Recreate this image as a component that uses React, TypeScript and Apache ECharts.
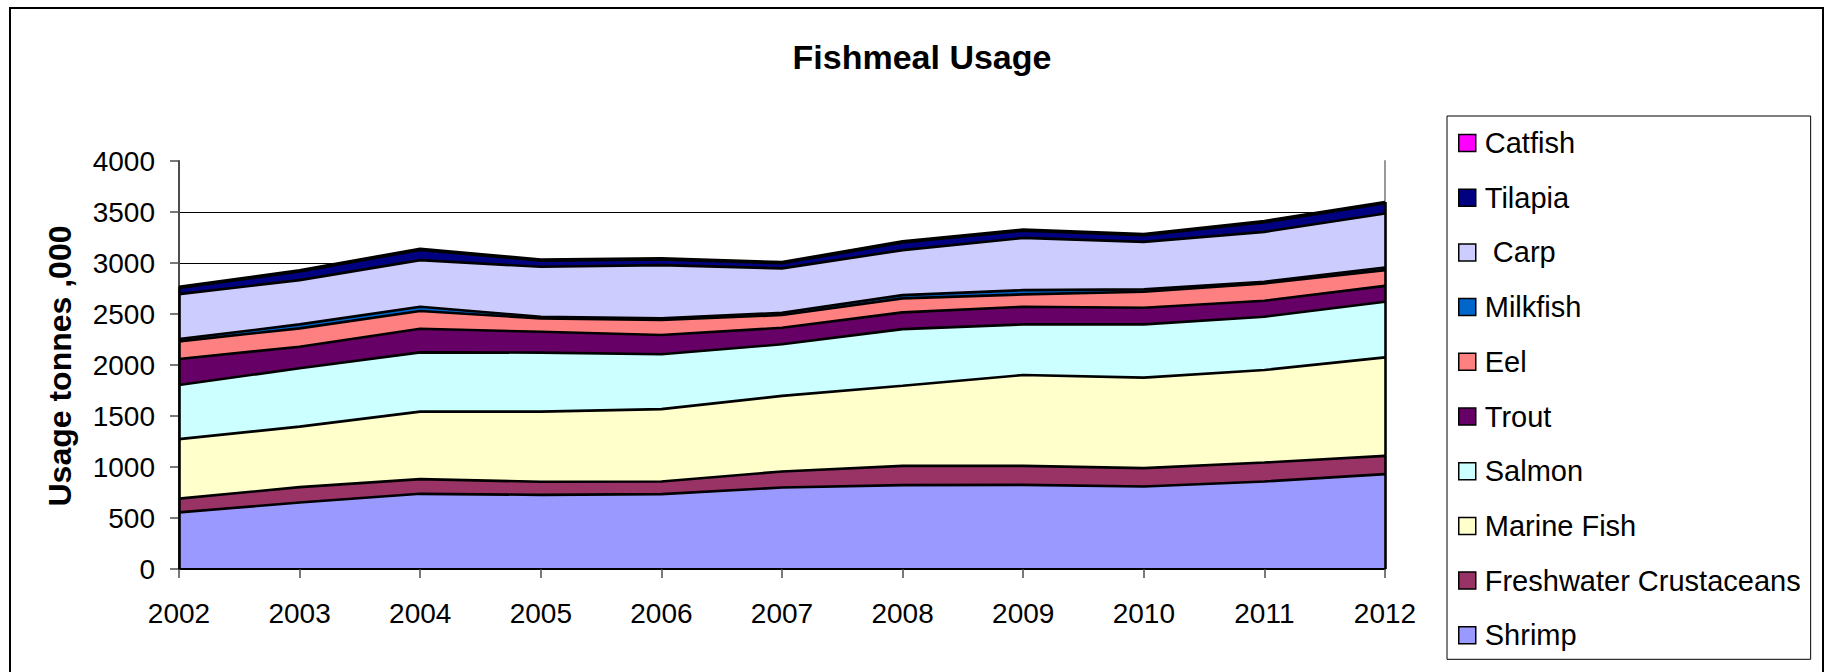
import React, { useEffect, useRef } from "react";
import * as echarts from "echarts";

// Years on the category axis
const years = ["2002", "2003", "2004", "2005", "2006", "2007", "2008", "2009", "2010", "2011", "2012"];

// Fishmeal usage by species, tonnes ,000 (stacked bottom to top)
const shrimp = [555, 652, 737, 727, 734, 799, 822, 825, 809, 858, 930];
const freshwaterCrustaceans = [135, 151, 144, 128, 124, 157, 189, 186, 180, 186, 179];
const marineFish = [583, 593, 662, 688, 709, 741, 786, 891, 887, 907, 966];
const salmon = [531, 572, 581, 578, 538, 506, 555, 496, 522, 522, 545];
const trout = [255, 211, 231, 205, 189, 162, 164, 173, 163, 157, 156];
const eel = [173, 180, 174, 131, 147, 125, 137, 121, 157, 170, 154];
const milkfish = [22, 39, 42, 16, 16, 22, 32, 42, 23, 16, 26];
const carp = [441, 434, 457, 490, 522, 435, 441, 512, 466, 489, 529];
const tilapia = [60, 85, 100, 60, 55, 50, 75, 70, 65, 95, 100];
const catfish = [12, 12, 12, 12, 12, 12, 12, 12, 12, 12, 12];

// Value axis ticks
const yTicks = [0, 500, 1000, 1500, 2000, 2500, 3000, 3500, 4000];

const FONT = "'Liberation Sans', Arial, Helvetica, sans-serif";

const seriesDefs = [
  { name: "Shrimp", data: shrimp, color: "#9999FF" },
  { name: "Freshwater Crustaceans", data: freshwaterCrustaceans, color: "#993366" },
  { name: "Marine Fish", data: marineFish, color: "#FFFFCC" },
  { name: "Salmon", data: salmon, color: "#CCFFFF" },
  { name: "Trout", data: trout, color: "#660066" },
  { name: "Eel", data: eel, color: "#FF8080" },
  { name: "Milkfish", data: milkfish, color: "#0066CC" },
  { name: " Carp", data: carp, color: "#CCCCFF" },
  { name: "Tilapia", data: tilapia, color: "#000080" },
  { name: "Catfish", data: catfish, color: "#FF00FF" },
];

export default function App() {
  const ref = useRef<HTMLDivElement>(null);

  useEffect(() => {
    if (!ref.current) return;
    const chart = echarts.init(ref.current, undefined, { renderer: "svg" });

    const totals = years.map((_, i) => seriesDefs.reduce((s, d) => s + d.data[i], 0));
    const last = years.length - 1;

    const series = seriesDefs.map((d, idx) => {
      const s: any = {
        name: d.name,
        type: "line",
        stack: "usage",
        data: d.data,
        showSymbol: false,
        symbol: "none",
        lineStyle: { color: "#000", width: 2.6 },
        itemStyle: { color: d.color },
        areaStyle: { color: d.color, opacity: 1 },
        emphasis: { disabled: true },
        z: 2,
      };
      if (idx === seriesDefs.length - 1) {
        // black outline down the two ends of the stacked block
        s.markLine = {
          silent: true,
          symbol: "none",
          label: { show: false },
          lineStyle: { color: "#000", width: 2.6, type: "solid" },
          data: [
            [{ coord: [years[0], 0] }, { coord: [years[0], totals[0]] }],
            [{ coord: [years[last], 0] }, { coord: [years[last], totals[last]] }],
          ],
        };
      }
      return s;
    });

    const splitColors = yTicks.map((v, i) => (i === yTicks.length - 1 ? "rgba(0,0,0,0)" : "#000"));

    chart.setOption({
      animation: false,
      backgroundColor: "#fff",
      textStyle: { fontFamily: FONT },
      grid: { left: 179, right: 445, top: 161, bottom: 103, containLabel: false },
      legend: {
        orient: "vertical",
        left: 1447,
        top: 116,
        data: seriesDefs.map((d) => d.name).reverse(),
        icon: "rect",
        itemWidth: 17,
        itemHeight: 17,
        itemGap: 24.7,
        padding: [12, 10, 9, 11],
        borderColor: "#000",
        borderWidth: 1,
        itemStyle: { borderColor: "#000", borderWidth: 1.5 },
        textStyle: {
          fontFamily: FONT,
          fontSize: 29,
          color: "#000",
          lineHeight: 30,
          padding: [0, 0, 0, 4],
        },
        selectedMode: false,
      },
      xAxis: [
        {
          type: "category",
          data: years,
          boundaryGap: false,
          z: 5,
          axisLine: { lineStyle: { color: "#000", width: 2 } },
          axisTick: { alignWithLabel: true, length: 9, lineStyle: { color: "#4d4d4d", width: 1.5 } },
          axisLabel: { fontFamily: FONT, fontSize: 28, color: "#000", margin: 30 },
          splitLine: { show: false },
        },
        {
          type: "category",
          data: years,
          position: "top",
          boundaryGap: false,
          axisLine: { lineStyle: { color: "#999", width: 2 } },
          axisTick: { show: false },
          axisLabel: { show: false },
          splitLine: { show: false },
        },
      ],
      yAxis: [
        {
          type: "value",
          min: 0,
          max: 4000,
          interval: 500,
          axisLine: { show: true, lineStyle: { color: "#4d4d4d", width: 2 } },
          axisTick: { show: true, length: 9, lineStyle: { color: "#4d4d4d", width: 1.5 } },
          axisLabel: {
            fontFamily: FONT,
            fontSize: 28,
            color: "#000",
            margin: 24,
            formatter: (v: number) => String(v),
          },
          splitLine: { show: true, lineStyle: { color: splitColors, width: 1 } },
        },
        {
          type: "value",
          min: 0,
          max: 4000,
          interval: 500,
          position: "right",
          axisLine: { show: true, lineStyle: { color: "#999", width: 2 } },
          axisTick: { show: false },
          axisLabel: { show: false },
          splitLine: { show: false },
        },
      ],
      graphic: [
        {
          type: "rect",
          shape: { x: 10, y: 8, width: 1813, height: 720 },
          style: { fill: "none", stroke: "#000", lineWidth: 2 },
          silent: true,
        },
        {
          type: "text",
          x: 922,
          y: 57,
          style: {
            text: "Fishmeal Usage",
            fontFamily: FONT,
            fontSize: 34,
            fontWeight: "bold",
            fill: "#000",
            textAlign: "center",
            textVerticalAlign: "middle",
          },
        },
        {
          type: "text",
          x: 60,
          y: 366,
          rotation: Math.PI / 2,
          style: {
            text: "Usage tonnes ,000",
            fontFamily: FONT,
            fontSize: 32,
            fontWeight: "bold",
            fill: "#000",
            textAlign: "center",
            textVerticalAlign: "middle",
          },
        },
      ],
      series,
    });

    return () => chart.dispose();
  }, []);

  return (
    <div
      ref={ref}
      style={{ position: "fixed", left: 0, top: 0, width: 1830, height: 672 }}
    />
  );
}
